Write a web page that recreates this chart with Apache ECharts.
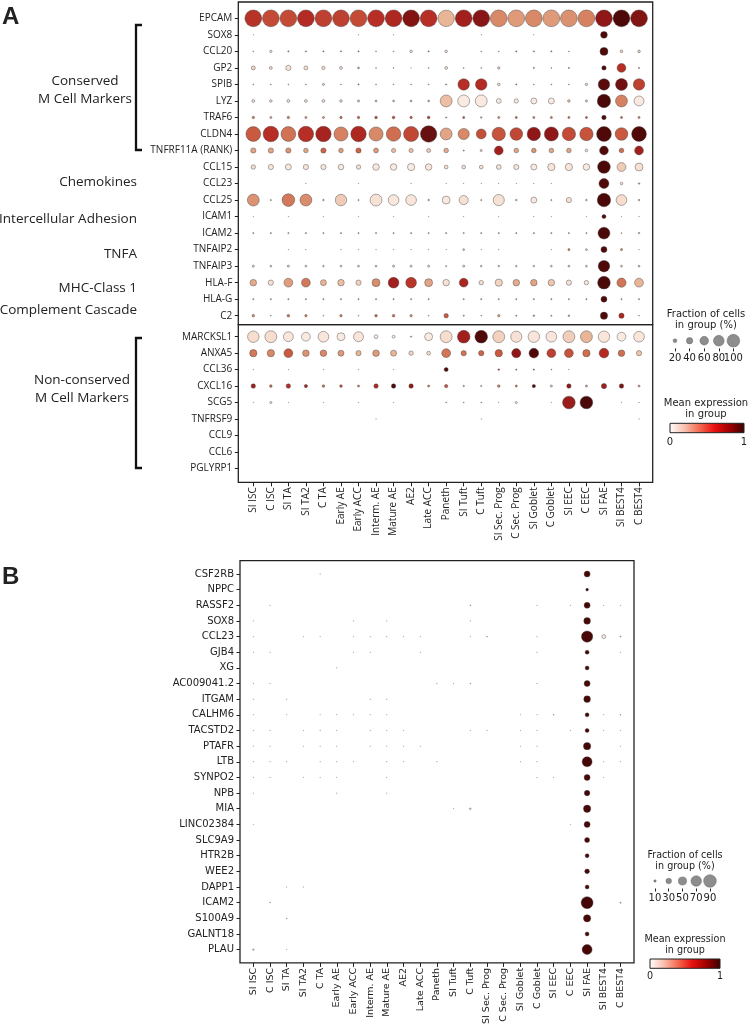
<!DOCTYPE html>
<html><head><meta charset="utf-8">
<script src="https://cdn.jsdelivr.net/npm/echarts@6/dist/echarts.min.js"></script>
<style>html,body{margin:0;padding:0;background:#fff}#c{width:750px;height:1031px}</style>
</head><body><div id="c"></div>
<script>
// ---------------- DATA ----------------
const cellTypes = ['SI ISC','C ISC','SI TA','SI TA2','C TA','Early AE','Early ACC','Interm. AE','Mature AE','AE2','Late ACC','Paneth','SI Tuft','C Tuft','SI Sec. Prog','C Sec. Prog','SI Goblet','C Goblet','SI EEC','C EEC','SI FAE','SI BEST4','C BEST4'];

const genesA1 = ['EPCAM','SOX8','CCL20','GP2','SPIB','LYZ','TRAF6','CLDN4','TNFRF11A (RANK)','CCL15','CCL23','CCL25','ICAM1','ICAM2','TNFAIP2','TNFAIP3','HLA-F','HLA-G','C2'];
const genesA2 = ['MARCKSL1','ANXA5','CCL36','CXCL16','SCG5','TNFRSF9','CCL9','CCL6','PGLYRP1'];
const genesB = ['CSF2RB','NPPC','RASSF2','SOX8','CCL23','GJB4','XG','AC009041.2','ITGAM','CALHM6','TACSTD2','PTAFR','LTB','SYNPO2','NPB','MIA','LINC02384','SLC9A9','HTR2B','WEE2','DAPP1','ICAM2','S100A9','GALNT18','PLAU'];

// fraction of cells (%) per gene (row) x cell type (column)
const fracA1 = [
 [95,95,95,95,95,95,95,95,95,95,95,92,95,95,95,95,95,95,95,95,95,95,95],
 [1,0,0,0,0,0,1,0,1,0,0,0,0,1,0,0,1,0,0,0,28,0,0],
 [2,7,3,3,3,3,3,2,2,8,3,8,0,2,2,3,3,3,2,0,35,8,8],
 [14,9,20,14,11,9,5,2,2,1,2,9,2,2,7,0,3,2,3,0,16,40,3],
 [2,2,2,2,6,2,3,2,2,2,2,3,57,57,8,3,2,2,2,7,57,60,57],
 [9,8,9,9,9,8,6,5,5,5,5,60,60,60,18,15,24,24,8,6,70,60,47],
 [7,6,7,6,6,7,7,8,8,7,8,3,6,4,6,6,6,6,6,6,16,6,6],
 [80,85,80,85,85,75,85,75,78,82,92,60,55,47,70,65,70,75,70,70,80,65,80],
 [20,20,20,17,20,17,20,18,15,15,14,17,3,6,40,17,17,17,17,8,40,17,40],
 [16,20,24,20,20,22,16,27,27,31,27,13,13,13,18,20,24,31,31,27,65,40,35],
 [0,0,0,1,0,0,1,0,0,1,0,1,1,1,1,1,1,1,0,0,47,8,4],
 [60,3,65,60,4,57,3,60,52,52,4,35,42,3,55,4,24,3,20,4,70,52,4],
 [1,0,1,0,1,0,1,0,1,0,1,0,1,0,1,0,1,1,0,1,14,1,1],
 [3,3,3,3,3,3,3,3,3,3,3,3,3,3,3,3,3,3,3,3,60,2,4],
 [0,0,1,1,0,1,1,1,1,1,1,1,5,1,1,0,0,1,6,5,24,6,1],
 [6,5,6,5,4,5,5,5,6,6,6,3,6,4,4,4,4,5,5,5,57,5,5],
 [27,20,40,40,24,27,20,35,52,52,35,27,40,16,31,27,27,27,20,16,65,42,40],
 [3,3,3,3,3,3,3,3,3,3,3,0,3,3,3,3,3,3,3,3,24,3,3],
 [8,2,8,7,2,7,2,8,8,7,2,16,3,2,7,3,4,3,4,0,31,20,2]
];
// mean expression in group (0-1)
const exprA1 = [
 [.61,.54,.54,.63,.57,.57,.54,.62,.65,.8,.62,.25,.7,.78,.38,.33,.38,.33,.36,.4,.76,.95,.8],
 [.2,.2,.2,.2,.2,.2,.2,.2,.2,.2,.2,.2,.2,.2,.2,.2,.2,.2,.2,.2,.95,.2,.2],
 [.3,.1,.4,.35,.35,.35,.35,.3,.3,.1,.4,.1,.3,.3,.3,.4,.35,.35,.3,.2,.95,.15,.15],
 [.15,.12,.08,.1,.1,.12,.3,.3,.3,.3,.3,.1,.3,.3,.15,.2,.35,.3,.35,.2,.95,.62,.35],
 [.3,.3,.3,.3,.15,.3,.35,.3,.3,.3,.3,.3,.62,.63,.12,.35,.3,.3,.3,.15,.92,.85,.57],
 [.1,.1,.1,.1,.1,.1,.2,.25,.25,.25,.25,.22,.05,.06,.05,.05,.05,.05,.2,.2,.96,.4,.06],
 [.4,.3,.4,.35,.35,.45,.5,.55,.55,.5,.6,.3,.55,.3,.4,.5,.4,.45,.45,.55,.95,.5,.4],
 [.5,.62,.44,.62,.68,.4,.65,.38,.45,.55,.88,.3,.38,.53,.52,.55,.76,.76,.54,.52,.95,.5,.95],
 [.3,.3,.35,.3,.47,.32,.47,.33,.22,.22,.18,.28,.3,.15,.7,.3,.35,.3,.3,.12,.95,.45,.7],
 [.12,.08,.06,.08,.08,.07,.1,.06,.06,.05,.08,.12,.1,.1,.1,.08,.06,.08,.08,.06,.96,.18,.1],
 [.3,.3,.3,.3,.3,.3,.3,.3,.3,.3,.3,.3,.3,.3,.3,.3,.3,.3,.3,.3,.95,.1,.3],
 [.35,.3,.42,.37,.3,.18,.3,.1,.07,.08,.3,.06,.1,.3,.1,.3,.06,.3,.1,.3,.96,.12,.3],
 [.2,.2,.2,.2,.2,.2,.2,.2,.2,.2,.2,.2,.2,.2,.2,.2,.2,.2,.2,.2,.95,.2,.2],
 [.3,.3,.3,.3,.3,.3,.3,.3,.3,.3,.3,.3,.3,.3,.3,.3,.3,.3,.3,.3,.96,.3,.2],
 [.3,.3,.3,.3,.3,.3,.3,.3,.3,.3,.3,.3,.2,.3,.3,.3,.3,.3,.4,.2,.95,.4,.3],
 [.15,.15,.15,.15,.2,.15,.2,.15,.15,.12,.12,.2,.12,.2,.2,.2,.2,.15,.2,.15,.95,.2,.2],
 [.28,.1,.32,.42,.25,.22,.15,.37,.7,.6,.3,.1,.66,.12,.15,.28,.3,.2,.1,.08,.96,.43,.25],
 [.3,.3,.3,.3,.3,.3,.3,.3,.3,.3,.3,.3,.3,.3,.3,.3,.3,.3,.3,.3,.95,.3,.3],
 [.38,.2,.45,.4,.2,.4,.2,.45,.45,.35,.2,.5,.3,.2,.3,.3,.4,.3,.4,.2,.95,.65,.2]
];
const fracA2 = [
 [57,60,47,40,52,35,47,13,9,3,35,60,65,65,60,55,57,52,60,60,57,40,52],
 [31,31,40,27,27,24,20,27,24,16,13,40,20,20,31,42,45,40,40,31,45,27,20],
 [1,0,1,0,1,0,1,0,1,0,0,14,0,0,4,3,3,2,1,0,0,0,0],
 [16,8,16,11,8,8,6,16,16,16,6,11,4,3,8,6,11,6,16,6,20,16,6],
 [1,6,1,0,1,0,1,0,1,0,0,2,2,2,1,6,0,1,65,65,0,1,1],
 [0,0,0,0,0,0,0,1,0,0,0,0,0,1,0,0,0,0,0,0,0,0,1],
 [0,0,0,0,0,0,0,0,0,0,0,0,0,0,0,0,0,0,0,0,0,0,0],
 [0,0,0,0,0,0,0,0,0,0,0,0,0,0,0,0,0,0,0,0,0,0,0],
 [0,0,0,0,0,0,0,0,0,0,0,0,0,0,0,0,0,0,0,0,0,0,0]
];
const exprA2 = [
 [.12,.12,.07,.05,.08,.05,.08,.05,.05,.3,.05,.12,.7,.95,.16,.1,.08,.08,.17,.25,.08,.05,.08],
 [.42,.38,.5,.35,.38,.33,.25,.33,.25,.15,.12,.43,.43,.47,.5,.76,.95,.57,.52,.45,.63,.45,.2],
 [.2,.2,.2,.2,.2,.2,.2,.2,.2,.2,.2,.95,.2,.2,.6,.5,.6,.5,.4,.2,.2,.2,.2],
 [.7,.45,.62,.66,.42,.52,.4,.65,.95,.75,.42,.52,.25,.3,.38,.45,.95,.2,.75,.3,.7,.8,.3],
 [.2,.1,.2,.2,.2,.2,.2,.2,.2,.2,.2,.3,.3,.3,.3,.1,.3,.3,.72,.96,.2,.3,.3],
 [.2,.2,.2,.2,.2,.2,.2,.2,.2,.2,.2,.2,.2,.2,.2,.2,.2,.2,.2,.2,.2,.2,.2],
 [0,0,0,0,0,0,0,0,0,0,0,0,0,0,0,0,0,0,0,0,0,0,0],
 [0,0,0,0,0,0,0,0,0,0,0,0,0,0,0,0,0,0,0,0,0,0,0],
 [0,0,0,0,0,0,0,0,0,0,0,0,0,0,0,0,0,0,0,0,0,0,0]
];
const fracB = [
 [0,0,0,0,1,0,0,0,0,0,0,0,0,0,0,0,0,0,0,0,33,0,0],
 [0,0,0,0,0,0,0,0,0,0,0,0,0,0,0,0,0,0,0,0,11,0,0],
 [0,1,0,0,0,0,0,0,0,0,0,0,0,2,0,0,0,1,0,1,33,1,1],
 [1,0,0,0,0,0,1,0,1,0,0,0,0,1,0,0,0,0,0,0,38,0,0],
 [1,0,0,1,1,0,1,1,1,1,1,0,0,1,2,0,0,1,0,0,77,19,3],
 [1,1,0,0,0,0,1,1,0,0,1,0,0,0,0,0,0,1,0,0,19,0,1],
 [0,0,0,0,0,1,0,0,0,0,0,0,0,0,0,0,0,0,0,0,19,0,0],
 [1,1,0,0,0,0,0,0,0,0,0,1,1,2,0,0,0,1,0,0,33,0,0],
 [1,0,1,0,0,0,0,1,1,0,0,0,0,0,0,0,0,0,0,0,38,0,0],
 [1,0,1,0,1,1,1,1,1,0,0,0,0,0,0,0,1,1,2,0,19,1,2],
 [1,1,0,1,1,1,0,1,1,1,0,0,0,1,1,0,1,1,0,1,19,1,1],
 [1,1,0,1,1,1,0,1,1,1,1,0,0,0,0,0,1,1,0,0,43,0,1],
 [1,1,1,0,1,1,1,0,1,1,0,1,0,0,0,0,1,1,0,0,65,1,1],
 [1,1,0,1,1,1,0,0,1,0,0,0,0,0,0,0,0,1,1,0,33,1,0],
 [1,0,0,0,0,1,0,0,1,0,0,0,0,0,0,0,0,0,0,0,30,0,0],
 [0,0,0,0,0,0,0,0,0,0,0,0,1,6,0,0,0,0,0,0,43,0,0],
 [1,0,0,0,0,0,0,0,0,0,0,0,0,0,0,0,0,0,0,1,33,0,0],
 [0,0,0,0,0,0,0,0,0,0,0,0,0,0,0,0,0,0,0,0,26,0,0],
 [0,0,0,0,0,0,0,0,0,0,0,0,0,0,0,0,0,0,0,0,19,0,0],
 [0,0,0,0,0,0,0,0,0,0,0,0,0,0,0,0,0,0,0,0,24,0,0],
 [0,0,1,1,0,0,0,0,0,0,0,0,0,0,0,0,0,0,0,0,19,0,0],
 [0,2,0,0,0,0,0,0,0,0,0,0,0,0,0,0,0,0,0,0,83,0,4],
 [0,0,2,0,0,0,0,0,0,0,0,0,0,0,0,0,0,0,0,0,43,0,0],
 [0,0,0,0,0,0,0,0,0,0,0,0,0,0,0,0,0,0,0,0,19,0,0],
 [5,0,1,0,0,0,0,0,0,0,0,0,0,0,0,0,0,0,0,0,65,0,0]
];
const exprB = [
 [.3,.3,.3,.3,.3,.3,.3,.3,.3,.3,.3,.3,.3,.3,.3,.3,.3,.3,.3,.3,.97,.3,.3],
 [.3,.3,.3,.3,.3,.3,.3,.3,.3,.3,.3,.3,.3,.3,.3,.3,.3,.3,.3,.3,.97,.3,.3],
 [.3,.3,.3,.3,.3,.3,.3,.3,.3,.3,.3,.3,.3,.4,.3,.3,.3,.3,.3,.3,.97,.3,.3],
 [.3,.3,.3,.3,.3,.3,.3,.3,.3,.3,.3,.3,.3,.3,.3,.3,.3,.3,.3,.3,.97,.3,.3],
 [.3,.3,.3,.3,.3,.3,.3,.3,.3,.3,.3,.3,.3,.3,.3,.3,.3,.3,.3,.3,.97,.05,.3],
 [.3,.3,.3,.3,.3,.3,.3,.3,.3,.3,.3,.3,.3,.3,.3,.3,.3,.3,.3,.3,.97,.3,.3],
 [.3,.3,.3,.3,.3,.3,.3,.3,.3,.3,.3,.3,.3,.3,.3,.3,.3,.3,.3,.3,.97,.3,.3],
 [.3,.3,.3,.3,.3,.3,.3,.3,.3,.3,.3,.3,.3,.3,.3,.3,.3,.3,.3,.3,.97,.3,.3],
 [.3,.3,.3,.3,.3,.3,.3,.3,.3,.3,.3,.3,.3,.3,.3,.3,.3,.3,.3,.3,.97,.3,.3],
 [.3,.3,.3,.3,.3,.3,.3,.3,.3,.3,.3,.3,.3,.3,.3,.3,.3,.3,.3,.3,.97,.3,.3],
 [.3,.3,.3,.3,.3,.3,.3,.3,.3,.3,.3,.3,.3,.3,.3,.3,.3,.3,.3,.3,.97,.3,.3],
 [.3,.3,.3,.3,.3,.3,.3,.3,.3,.3,.3,.3,.3,.3,.3,.3,.3,.3,.3,.3,.97,.3,.3],
 [.3,.3,.3,.3,.3,.3,.3,.3,.3,.3,.3,.3,.3,.3,.3,.3,.3,.3,.3,.3,.97,.3,.3],
 [.3,.3,.3,.3,.3,.3,.3,.3,.3,.3,.3,.3,.3,.3,.3,.3,.3,.3,.3,.3,.97,.3,.3],
 [.3,.3,.3,.3,.3,.3,.3,.3,.3,.3,.3,.3,.3,.3,.3,.3,.3,.3,.3,.3,.97,.3,.3],
 [.3,.3,.3,.3,.3,.3,.3,.3,.3,.3,.3,.3,.3,.05,.3,.3,.3,.3,.3,.3,.97,.3,.3],
 [.3,.3,.3,.3,.3,.3,.3,.3,.3,.3,.3,.3,.3,.3,.3,.3,.3,.3,.3,.3,.97,.3,.3],
 [.3,.3,.3,.3,.3,.3,.3,.3,.3,.3,.3,.3,.3,.3,.3,.3,.3,.3,.3,.3,.97,.3,.3],
 [.3,.3,.3,.3,.3,.3,.3,.3,.3,.3,.3,.3,.3,.3,.3,.3,.3,.3,.3,.3,.97,.3,.3],
 [.3,.3,.3,.3,.3,.3,.3,.3,.3,.3,.3,.3,.3,.3,.3,.3,.3,.3,.3,.3,.97,.3,.3],
 [.3,.3,.3,.3,.3,.3,.3,.3,.3,.3,.3,.3,.3,.3,.3,.3,.3,.3,.3,.3,.97,.3,.3],
 [.3,.3,.3,.3,.3,.3,.3,.3,.3,.3,.3,.3,.3,.3,.3,.3,.3,.3,.3,.3,.98,.3,.05],
 [.3,.3,.3,.3,.3,.3,.3,.3,.3,.3,.3,.3,.3,.3,.3,.3,.3,.3,.3,.3,.97,.3,.3],
 [.3,.3,.3,.3,.3,.3,.3,.3,.3,.3,.3,.3,.3,.3,.3,.3,.3,.3,.3,.3,.97,.3,.3],
 [.05,.3,.3,.3,.3,.3,.3,.3,.3,.3,.3,.3,.3,.3,.3,.3,.3,.3,.3,.3,.97,.3,.3]
];
const sizeLegendA = [20, 40, 60, 80, 100];
const sizeLegendB = [10, 30, 50, 70, 90];
const colorScale = ['#fdf5f0','#f6dccd','#e9b597','#d98b6a','#c95a3f','#b52c24','#931818','#6a0f0f','#3d0505'];
const colorbarStops = ['#ffffff','#f9c0ae','#f46a50','#e81010','#a00000','#3c0000'];

// ---------------- BUILD ----------------
function cells(frac, expr) {
  const out = [];
  frac.forEach((row, i) => row.forEach((f, j) => { if (f > 0) out.push([j, i, f, expr[i][j]]); }));
  return out;
}
const DA = 17.5, DB = 13.75, DLA = 12.7, DLB = 13.75;
const sz = D => (v => D * Math.pow(v[2] / 100, 0.75));
const idx = n => Array.from({length: n}, (_, i) => i);
const OS = '"Open Sans"', DV = '"DejaVu Sans"';
const ink = '#222';

function xAx(grid, show, min, max, ff, fs) {
  return { type: 'value', gridIndex: grid, min, max, position: 'bottom', axisLine: {show: false, onZero: false}, splitLine: {show: false},
    axisTick: {show: show, customValues: idx(cellTypes.length), length: 4, lineStyle: {color: ink, width: 1}},
    axisLabel: {show: show, customValues: idx(cellTypes.length), rotate: 90, margin: 5, formatter: v => cellTypes[Math.round(v)],
      fontFamily: ff, fontSize: fs, color: ink} };
}
function yAx(grid, genes, min, max, ff, fs) {
  return { type: 'value', gridIndex: grid, inverse: true, min, max, position: 'left', axisLine: {show: false, onZero: false}, splitLine: {show: false},
    axisTick: {show: true, customValues: idx(genes.length), length: 3.5, lineStyle: {color: ink, width: 1}},
    axisLabel: {customValues: idx(genes.length), margin: 6, formatter: v => genes[Math.round(v)], fontFamily: ff, fontSize: fs, color: ink} };
}
const frame = {show: true, borderColor: ink, borderWidth: 1.3, backgroundColor: 'transparent'};
const dotStyle = {borderColor: 'rgba(60,60,60,0.7)', borderWidth: 0.6, opacity: 1};

function txt(text, x, y, font, align, lh) {
  return {type: 'text', silent: true, style: {text, x, y, font, textAlign: align || 'left', textVerticalAlign: 'middle', lineHeight: lh || undefined, fill: ink}};
}
function bracket(y1, y2) {
  return {type: 'polyline', silent: true, shape: {points: [[142, y1], [136, y1], [136, y2], [142, y2]]}, style: {stroke: '#111', lineWidth: 2.3, fill: null}};
}
function colorbar(x, y, w, h) {
  return {type: 'rect', silent: true, shape: {x, y, width: w, height: h},
    style: {stroke: ink, lineWidth: 1, fill: new echarts.graphic.LinearGradient(0, 0, 1, 0,
      colorbarStops.map((c, i) => ({offset: i / (colorbarStops.length - 1), color: c})))}};
}
function legendX(grid, vals) {
  return {type: 'category', gridIndex: grid, data: vals.map(String), boundaryGap: true, position: 'bottom',
    axisLine: {show: false, onZero: false},
    axisTick: {show: true, alignWithLabel: true, length: 3, lineStyle: {color: ink}},
    axisLabel: {interval: 0, margin: 5, fontFamily: DV, fontSize: 10, color: ink}};
}

const option = {
  animation: false,
  backgroundColor: '#fff',
  grid: [
    Object.assign({left: 238.3, top: 2, width: 414.4, height: 322.7}, frame),
    Object.assign({left: 238.3, top: 324.7, width: 414.4, height: 157.6}, frame),
    Object.assign({left: 240, top: 560.7, width: 394, height: 402.2}, frame),
    {left: 667.7, top: 333, width: 73, height: 15.4},
    {left: 648.1, top: 873.5, width: 68.75, height: 15}
  ],
  xAxis: [
    xAx(0, false, -0.856, 22.78, OS, 10),
    xAx(1, true, -0.856, 22.78, OS, 10),
    xAx(2, true, -0.8, 22.81, DV, 9.5),
    legendX(3, sizeLegendA),
    legendX(4, sizeLegendB)
  ],
  yAxis: [
    yAx(0, genesA1, -0.99, 18.545, OS, 10),
    yAx(1, genesA2, -0.73, 8.85, OS, 10),
    yAx(2, genesB, -0.85, 24.85, DV, 10),
    {type: 'value', gridIndex: 3, min: -1, max: 1, show: false},
    {type: 'value', gridIndex: 4, min: -1, max: 1, show: false}
  ],
  visualMap: {type: 'continuous', show: false, min: 0, max: 1, dimension: 3, seriesIndex: [0, 1, 2], inRange: {color: colorScale}},
  series: [
    {type: 'scatter', xAxisIndex: 0, yAxisIndex: 0, data: cells(fracA1, exprA1), symbolSize: sz(DA), itemStyle: dotStyle},
    {type: 'scatter', xAxisIndex: 1, yAxisIndex: 1, data: cells(fracA2, exprA2), symbolSize: sz(DA), itemStyle: dotStyle},
    {type: 'scatter', xAxisIndex: 2, yAxisIndex: 2, data: cells(fracB, exprB), symbolSize: sz(DB), itemStyle: dotStyle},
    {type: 'scatter', xAxisIndex: 3, yAxisIndex: 3, data: sizeLegendA.map((f, i) => [i, 0, f]), symbolSize: sz(DLA),
      itemStyle: {color: '#707070', borderColor: '#555', borderWidth: 0.5}},
    {type: 'scatter', xAxisIndex: 4, yAxisIndex: 4, data: sizeLegendB.map((f, i) => [i, 0, f]), symbolSize: sz(DLB),
      itemStyle: {color: '#707070', borderColor: '#555', borderWidth: 0.5}}
  ],
  graphic: [
    txt('A', 2, 17, 'bold 24px "Liberation Sans"', 'left'),
    txt('B', 2, 577, 'bold 24px "Liberation Sans"', 'left'),
    txt('Conserved\nM Cell Markers', 85, 90, '13.5px ' + OS, 'center', 18.5),
    txt('Chemokines', 137, 181.7, '13.5px ' + OS, 'right'),
    txt('Intercellular Adhesion', 137, 219.3, '13.5px ' + OS, 'right'),
    txt('TNFA', 137, 254, '13.5px ' + OS, 'right'),
    txt('MHC-Class 1', 137, 288, '13.5px ' + OS, 'right'),
    txt('Complement Cascade', 137, 310, '13.5px ' + OS, 'right'),
    txt('Non-conserved\nM Cell Markers', 82, 389, '13.5px ' + OS, 'center', 18.5),
    bracket(25, 150),
    bracket(338, 468),
    txt('Fraction of cells', 706, 314.3, '10px ' + DV, 'center'),
    txt('in group (%)', 706, 325.7, '10px ' + DV, 'center'),
    txt('Mean expression', 706, 403.3, '10px ' + DV, 'center'),
    txt('in group', 706, 414.3, '10px ' + DV, 'center'),
    colorbar(670, 423.3, 74, 9.4),
    txt('0', 670, 442.7, '10px ' + DV, 'center'),
    txt('1', 744, 442.7, '10px ' + DV, 'center'),
    txt('Fraction of cells', 685, 855, '9.6px ' + DV, 'center'),
    txt('in group (%)', 685, 866, '9.6px ' + DV, 'center'),
    txt('Mean expression', 685, 939.3, '9.6px ' + DV, 'center'),
    txt('in group', 685, 950, '9.6px ' + DV, 'center'),
    colorbar(650, 959, 70, 9.3),
    txt('0', 650, 976.7, '9.6px ' + DV, 'center'),
    txt('1', 720, 976.7, '9.6px ' + DV, 'center')
  ]
};
const chart = echarts.init(document.getElementById('c'), null, {renderer: 'canvas'});
chart.setOption(option);
</script></body></html>
